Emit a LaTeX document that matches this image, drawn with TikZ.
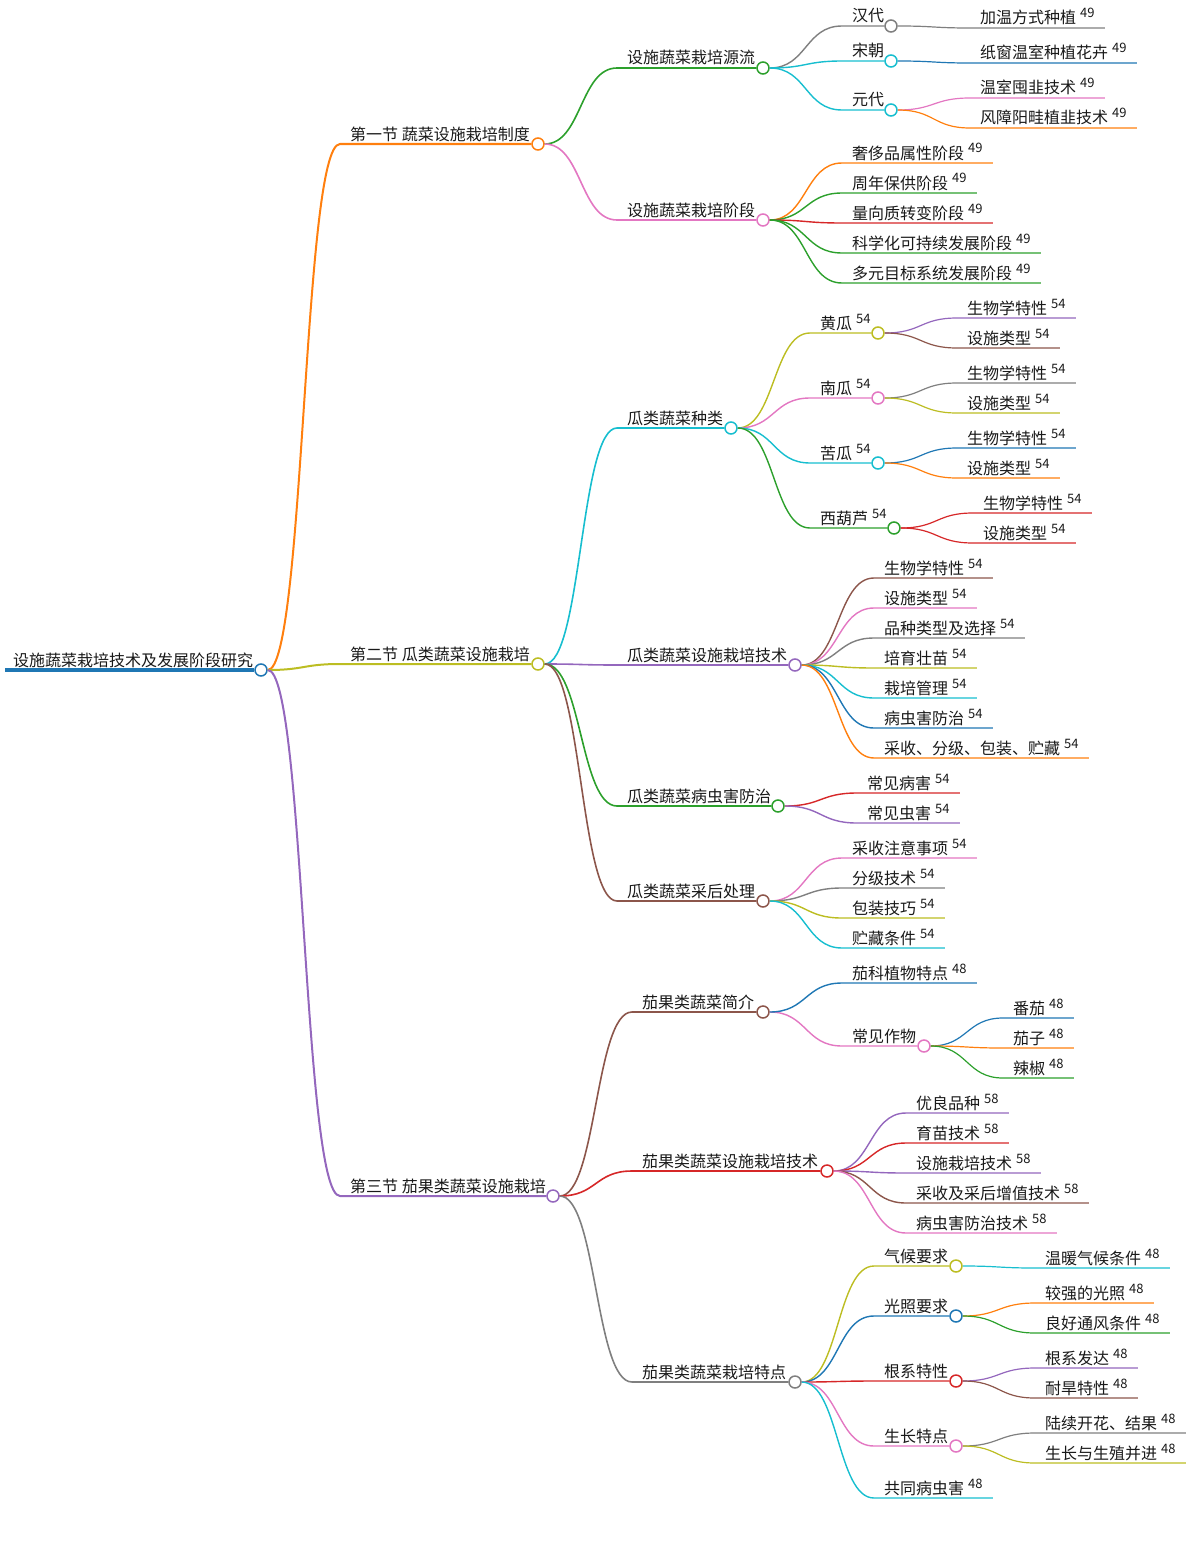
\documentclass[tikz,border=0pt]{standalone}
\usepackage{fontspec}
\newfontfamily\cjk{Noto Sans CJK SC}
\definecolor{mblue}{HTML}{1F77B4}
\definecolor{morange}{HTML}{FF7F0E}
\definecolor{mgreen}{HTML}{2CA02C}
\definecolor{mred}{HTML}{D62728}
\definecolor{mpurple}{HTML}{9467BD}
\definecolor{mbrown}{HTML}{8C564B}
\definecolor{mpink}{HTML}{E377C2}
\definecolor{mgray}{HTML}{7F7F7F}
\definecolor{molive}{HTML}{BCBD22}
\definecolor{mcyan}{HTML}{17BECF}
\newcommand\mmref[1]{\hspace{4pt}\raisebox{6pt}{\fontsize{13}{13}\selectfont #1}}

\begin{document}
\begin{tikzpicture}[x=1pt,y=-1pt,
    lbl/.style={anchor=base west,inner sep=0pt,text=black!90,font=\cjk\fontsize{16}{16}\selectfont},
    dot/.style={circle,draw=#1,fill=white,line width=1.5pt,minimum size=12pt,inner sep=0pt}]
    %\draw[help lines] (0,0) grid (1189,1544);
    \useasboundingbox (0,0) rectangle (1189,1544);

    % root
    \coordinate (R-s) at (5,670);
    \node[lbl] (R-t) at (13,666) {设施蔬菜栽培技术及发展阶段研究};
    \node[dot=mblue] (R) at (261,670) {};
    \draw[mblue,line width=3.5pt] (R-s) -- (R.west);

    % topics with a circle
    \foreach \n/\p/\c/\w/\x/\y/\cx/\t in {
        A/R/morange/2pt/340/144/538/{第一节 蔬菜设施栽培制度},
        B/R/molive/2pt/340/664/538/{第二节 瓜类蔬菜设施栽培},
        C/R/mpurple/2pt/340/1196/553/{第三节 茄果类蔬菜设施栽培},
        A1/A/mgreen/1.6pt/617/68/763/{设施蔬菜栽培源流},
        A2/A/mpink/1.6pt/617/220/763/{设施蔬菜栽培阶段},
        A1a/A1/mgray/1.4pt/842/26/891/{汉代},
        A1b/A1/mcyan/1.4pt/842/61/891/{宋朝},
        A1c/A1/mcyan/1.4pt/842/110/891/{元代},
        B1/B/mcyan/1.6pt/617/428/731/{瓜类蔬菜种类},
        B2/B/mpurple/1.6pt/617/665/795/{瓜类蔬菜设施栽培技术},
        B3/B/mgreen/1.6pt/617/806/778/{瓜类蔬菜病虫害防治},
        B4/B/mbrown/1.6pt/617/901/763/{瓜类蔬菜采后处理},
        B1a/B1/molive/1.4pt/810/333/878/{黄瓜\mmref{54}},
        B1b/B1/mpink/1.4pt/810/398/878/{南瓜\mmref{54}},
        B1c/B1/mcyan/1.4pt/810/463/878/{苦瓜\mmref{54}},
        B1d/B1/mgreen/1.4pt/810/528/894/{西葫芦\mmref{54}},
        C1/C/mbrown/1.6pt/632/1012/763/{茄果类蔬菜简介},
        C2/C/mred/1.6pt/632/1171/827/{茄果类蔬菜设施栽培技术},
        C3/C/mgray/1.6pt/632/1382/795/{茄果类蔬菜栽培特点},
        C1b/C1/mpink/1.4pt/842/1046/924/{常见作物},
        C3a/C3/molive/1.4pt/874/1266/956/{气候要求},
        C3b/C3/mblue/1.4pt/874/1316/956/{光照要求},
        C3c/C3/mred/1.4pt/874/1381/956/{根系特性},
        C3d/C3/mpink/1.4pt/874/1446/956/{生长特点}}{
        \coordinate (\n-s) at (\x,\y);
        \node[lbl] (\n-t) at (\x+10,\y-4) {\t};
        \node[dot=\c] (\n) at (\cx,\y) {};
        \draw[\c,line width=\w] (\p.east) .. controls +(37,0) and +(-37,0) .. (\n-s) -- (\n.west);
    }

    % leaves
    \foreach \n/\p/\c/\w/\x/\y/\t in {
        L1/A1a/mgray/1.2pt/970/28/{加温方式种植\mmref{49}},
        L2/A1b/mblue/1.2pt/970/63/{纸窗温室种植花卉\mmref{49}},
        L3/A1c/mpink/1.2pt/970/98/{温室囤韭技术\mmref{49}},
        L4/A1c/morange/1.2pt/970/128/{风障阳畦植韭技术\mmref{49}},
        L5/A2/morange/1.4pt/842/163/{奢侈品属性阶段\mmref{49}},
        L6/A2/mgreen/1.4pt/842/193/{周年保供阶段\mmref{49}},
        L7/A2/mred/1.4pt/842/223/{量向质转变阶段\mmref{49}},
        L8/A2/mgreen/1.4pt/842/253/{科学化可持续发展阶段\mmref{49}},
        L9/A2/mgreen/1.4pt/842/283/{多元目标系统发展阶段\mmref{49}},
        L10/B1a/mpurple/1.2pt/957/318/{生物学特性\mmref{54}},
        L11/B1a/mbrown/1.2pt/957/348/{设施类型\mmref{54}},
        L12/B1b/mgray/1.2pt/957/383/{生物学特性\mmref{54}},
        L13/B1b/molive/1.2pt/957/413/{设施类型\mmref{54}},
        L14/B1c/mblue/1.2pt/957/448/{生物学特性\mmref{54}},
        L15/B1c/morange/1.2pt/957/478/{设施类型\mmref{54}},
        L16/B1d/mred/1.2pt/973/513/{生物学特性\mmref{54}},
        L17/B1d/mred/1.2pt/973/543/{设施类型\mmref{54}},
        L18/B2/mbrown/1.4pt/874/578/{生物学特性\mmref{54}},
        L19/B2/mpink/1.4pt/874/608/{设施类型\mmref{54}},
        L20/B2/mgray/1.4pt/874/638/{品种类型及选择\mmref{54}},
        L21/B2/molive/1.4pt/874/668/{培育壮苗\mmref{54}},
        L22/B2/mcyan/1.4pt/874/698/{栽培管理\mmref{54}},
        L23/B2/mblue/1.4pt/874/728/{病虫害防治\mmref{54}},
        L24/B2/morange/1.4pt/874/758/{采收、分级、包装、贮藏\mmref{54}},
        L25/B3/mred/1.4pt/857/793/{常见病害\mmref{54}},
        L26/B3/mpurple/1.4pt/857/823/{常见虫害\mmref{54}},
        L27/B4/mpink/1.4pt/842/858/{采收注意事项\mmref{54}},
        L28/B4/mgray/1.4pt/842/888/{分级技术\mmref{54}},
        L29/B4/molive/1.4pt/842/918/{包装技巧\mmref{54}},
        L30/B4/mcyan/1.4pt/842/948/{贮藏条件\mmref{54}},
        L31/C1/mblue/1.4pt/842/983/{茄科植物特点\mmref{48}},
        L32/C1b/mblue/1.2pt/1003/1018/{番茄\mmref{48}},
        L33/C1b/morange/1.2pt/1003/1048/{茄子\mmref{48}},
        L34/C1b/mgreen/1.2pt/1003/1078/{辣椒\mmref{48}},
        L35/C2/mpurple/1.4pt/906/1113/{优良品种\mmref{58}},
        L36/C2/mred/1.4pt/906/1143/{育苗技术\mmref{58}},
        L37/C2/mpurple/1.4pt/906/1173/{设施栽培技术\mmref{58}},
        L38/C2/mbrown/1.4pt/906/1203/{采收及采后增值技术\mmref{58}},
        L39/C2/mpink/1.4pt/906/1233/{病虫害防治技术\mmref{58}},
        L40/C3/mcyan/1.4pt/874/1498/{共同病虫害\mmref{48}},
        L41/C3a/mcyan/1.2pt/1035/1268/{温暖气候条件\mmref{48}},
        L42/C3b/morange/1.2pt/1035/1303/{较强的光照\mmref{48}},
        L43/C3b/mgreen/1.2pt/1035/1333/{良好通风条件\mmref{48}},
        L44/C3c/mpurple/1.2pt/1035/1368/{根系发达\mmref{48}},
        L45/C3c/mbrown/1.2pt/1035/1398/{耐旱特性\mmref{48}},
        L46/C3d/mgray/1.2pt/1035/1433/{陆续开花、结果\mmref{48}},
        L47/C3d/molive/1.2pt/1035/1463/{生长与生殖并进\mmref{48}}}{
        \coordinate (\n-s) at (\x,\y);
        \node[lbl] (\n) at (\x+10,\y-4) {\t};
        \draw[\c,line width=\w] (\p.east) .. controls +(37,0) and +(-37,0) .. (\n-s) -- (\n-s -| \n.east) -- ++(10,0);
    }

\end{tikzpicture}
\end{document}
